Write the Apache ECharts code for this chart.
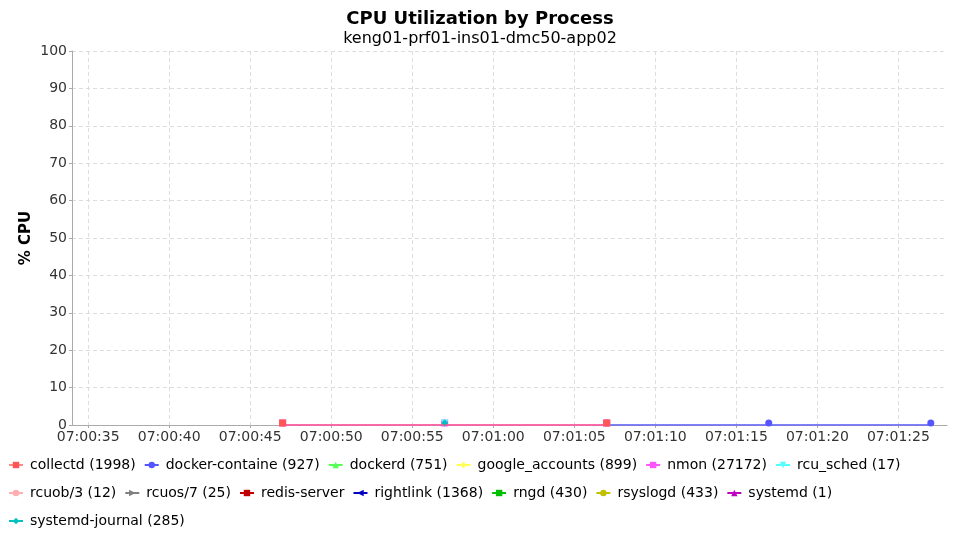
<!DOCTYPE html>
<html><head><meta charset="utf-8">
<script src="https://cdn.jsdelivr.net/npm/echarts@6/dist/echarts.min.js"></script>
<style>html,body{margin:0;padding:0;background:#fff}#c{width:960px;height:540px}</style>
</head><body><div id="c"></div>
<script>
var times = ['07:00:47','07:00:57','07:01:07','07:01:17','07:01:27'];
var xMin = '07:00:34';
var xMax = '07:01:28';
var xTickLabels = ['07:00:35','07:00:40','07:00:45','07:00:50','07:00:55','07:01:00','07:01:05','07:01:10','07:01:15','07:01:20','07:01:25'];
var seriesNames = ['collectd (1998)','docker-containe (927)','dockerd (751)','google_accounts (899)','nmon (27172)','rcu_sched (17)','rcuob/3 (12)','rcuos/7 (25)','redis-server','rightlink (1368)','rngd (430)','rsyslogd (433)','systemd (1)','systemd-journal (285)'];
var collectd = [0, null, 0, null, null];
var dockerContaine = [null, null, 0, 0, 0];
var dockerd = [null, null, null, null, null];
var googleAccounts = [null, null, null, null, null];
var nmon = [0, 0, 0, null, null];
var rcuSched = [null, 0, null, null, null];
var rcuob3 = [null, null, null, null, null];
var rcuos7 = [null, null, null, null, null];
var redisServer = [null, null, null, null, null];
var rightlink = [null, null, null, null, null];
var rngd = [null, null, null, null, null];
var rsyslogd = [null, null, null, null, null];
var systemd = [null, null, null, null, null];
var systemdJournal = [null, 0, null, null, null];
var seriesValues = [collectd, dockerContaine, dockerd, googleAccounts, nmon, rcuSched, rcuob3, rcuos7, redisServer, rightlink, rngd, rsyslogd, systemd, systemdJournal];
var yTicks = [0,10,20,30,40,50,60,70,80,90,100];

var colors = ['#ff5555','#5555ff','#55ff55','#ffff55','#ff55ff','#55ffff','#ffafaf','#808080','#c00000','#0000c0','#00c000','#c0c000','#c000c0','#00c0c0'];
var hRect = 'path://M0,3 L8,3 L8,6 L0,6 Z';
var vRect = 'path://M3,0 L6,0 L6,8 L3,8 Z';
var ellipse = 'path://M0,3 A4,2 0 1,0 8,3 A4,2 0 1,0 0,3 Z';
var symbols = [
  ['rect',0],['circle',0],['triangle',0],['diamond',0],[hRect,0],['triangle',180],[ellipse,0],['triangle',-90],[vRect,0],['triangle',90],
  ['rect',0],['circle',0],['triangle',0],['diamond',0]
];

function toSec(t){var p=t.split(':');return (+p[0])*3600+(+p[1])*60+(+p[2]);}
function fmt(s){function p(x){return (x<10?'0':'')+x;}s=Math.round(s);return p(Math.floor(s/3600))+':'+p(Math.floor(s/60)%60)+':'+p(s%60);}

var font = 'DejaVu Sans';
var series = seriesNames.map(function(n,i){
  return {
    name: n, type: 'line',
    data: times.map(function(t,j){return [toSec(t), seriesValues[i][j]];}),
    connectNulls: true,
    symbol: symbols[i][0], symbolRotate: symbols[i][1],
    symbolSize: 7, symbolOffset: [0,-2],
    showAllSymbol: true,
    z: i===0 ? 5 : 2,
    itemStyle: {color: colors[i]},
    lineStyle: {color: colors[i], width: 1.5, opacity: i===0 ? 0.7 : 1},
    animation: false
  };
});
var xTickVals = xTickLabels.map(toSec);

var chart = echarts.init(document.getElementById('c'), null, {renderer:'canvas'});
chart.setOption({
  animation: false,
  backgroundColor: '#ffffff',
  title: {
    text: 'CPU Utilization by Process',
    subtext: 'keng01-prf01-ins01-dmc50-app02',
    left: 'center', top: 5, itemGap: 3,
    textStyle: {fontFamily: font, fontSize: 18, fontWeight: 'bold', color: '#000'},
    subtextStyle: {fontFamily: font, fontSize: 16, color: '#000'}
  },
  grid: {left: 72, right: 13, top: 51, bottom: 115, containLabel: false, outerBoundsMode: 'none'},
  xAxis: {
    type: 'value',
    min: toSec(xMin), max: toSec(xMax),
    axisLine: {show: true, onZero: false, lineStyle: {color: '#aaaaaa'}},
    axisTick: {show: true, length: 3, lineStyle: {color: '#aaaaaa'}, customValues: xTickVals},
    axisLabel: {fontFamily: font, fontSize: 14, color: '#333', margin: 5, customValues: xTickVals,
      formatter: function(v){return fmt(v);}},
    splitLine: {show: true, lineStyle: {color: '#dddddd', type: [4,3]}}
  },
  yAxis: {
    type: 'value', min: yTicks[0], max: yTicks[yTicks.length-1], interval: 10,
    name: '% CPU', nameLocation: 'middle', nameGap: 38, nameMoveOverlap: false,
    nameTextStyle: {fontFamily: font, fontSize: 15, fontWeight: 'bold', color: '#000'},
    axisLine: {show: true, lineStyle: {color: '#aaaaaa'}},
    axisTick: {show: true, length: 3, lineStyle: {color: '#aaaaaa'}},
    axisLabel: {fontFamily: font, fontSize: 14, color: '#333', margin: 5},
    splitLine: {show: true, lineStyle: {color: '#dddddd', type: [4,3]}}
  },
  legend: {
    data: seriesNames,
    left: 3, top: 450, width: 945,
    itemWidth: 14, itemHeight: 8, itemGap: 8,
    textStyle: {fontFamily: font, fontSize: 14, color: '#000', lineHeight: 20, padding: [0,0,0,2]},
    selectedMode: false
  },
  series: series
});
</script></body></html>
